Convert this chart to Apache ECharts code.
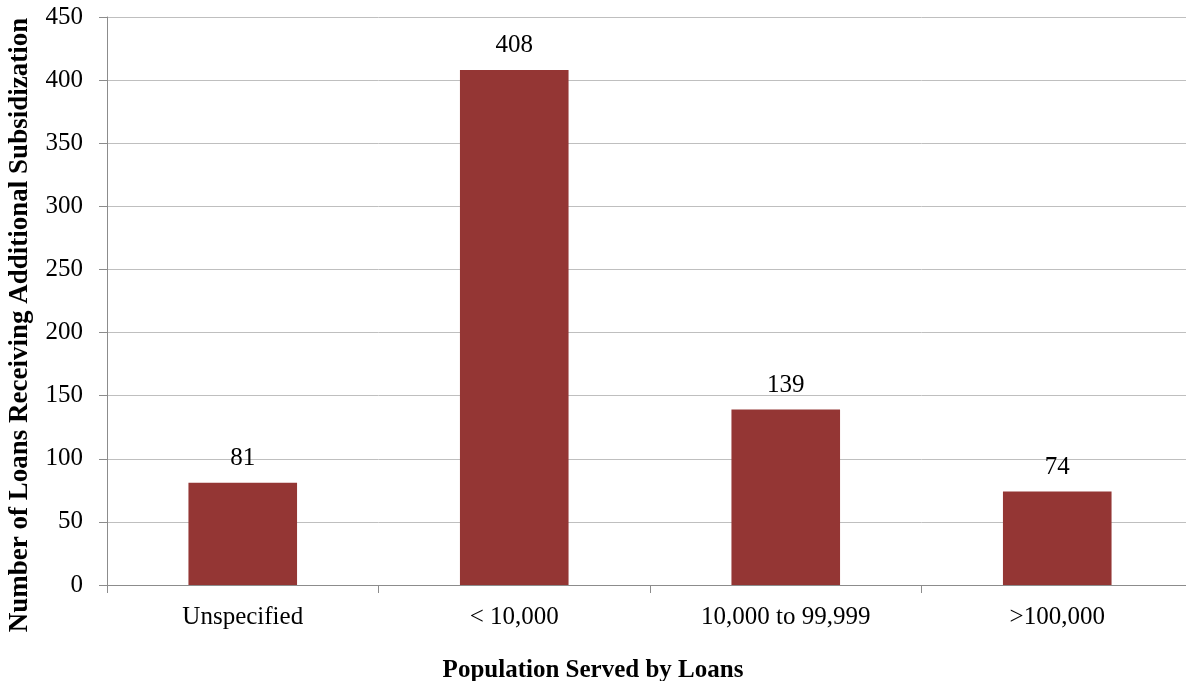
<!DOCTYPE html>
<html>
<head>
<meta charset="utf-8">
<script src="https://cdn.jsdelivr.net/npm/echarts@6/dist/echarts.min.js"></script>
<style>
html,body{margin:0;padding:0;background:#fff;overflow:hidden;}
#main{width:1193px;height:681px;}
</style>
</head>
<body>
<div id="main"></div>
<script>
// 数据
var categories = ['Unspecified', '< 10,000', '10,000 to 99,999', '>100,000'];
var loanCounts = [81, 408, 139, 74];

var serif = '"Liberation Serif", "Times New Roman", serif';

var chart = echarts.init(document.getElementById('main'));
chart.setOption({
	animation: false,
	textStyle: { fontFamily: serif },
	grid: { left: 107, top: 17, right: 0, bottom: 96, containLabel: false },
	xAxis: {
		type: 'category',
		data: categories,
		axisLine: { lineStyle: { color: '#8c8c8c', width: 1 } },
		axisTick: { show: true, length: 8, lineStyle: { color: '#8c8c8c' } },
		axisLabel: { color: '#000', fontSize: 25, fontFamily: serif, margin: 20 }
	},
	yAxis: {
		type: 'value',
		min: 0,
		max: 450,
		interval: 50,
		axisLine: { show: true, lineStyle: { color: '#8c8c8c', width: 1 } },
		axisTick: { show: true, length: 8, lineStyle: { color: '#8c8c8c' } },
		splitLine: { lineStyle: { color: '#bfbfbf', width: 1 } },
		axisLabel: { color: '#000', fontSize: 25, fontFamily: serif, margin: 24 }
	},
	graphic: [{
		type: 'text',
		x: 20,
		y: 325,
		rotation: Math.PI / 2,
		style: {
			text: 'Number of Loans Receiving Additional Subsidization',
			font: 'bold 27px ' + serif,
			fill: '#000',
			textAlign: 'center',
			textVerticalAlign: 'middle'
		}
	}],
	title: {
		text: 'Population Served by Loans',
		left: 588,
		textAlign: 'center',
		top: 653,
		textStyle: { fontSize: 25, fontWeight: 'bold', color: '#000', fontFamily: serif }
	},
	series: [{
		type: 'bar',
		data: loanCounts,
		barWidth: '40%',
		itemStyle: { color: '#943634' },
		label: {
			show: true,
			position: 'top',
			distance: 12,
			color: '#000',
			fontSize: 25,
			fontFamily: serif
		}
	}]
});
</script>
</body>
</html>
